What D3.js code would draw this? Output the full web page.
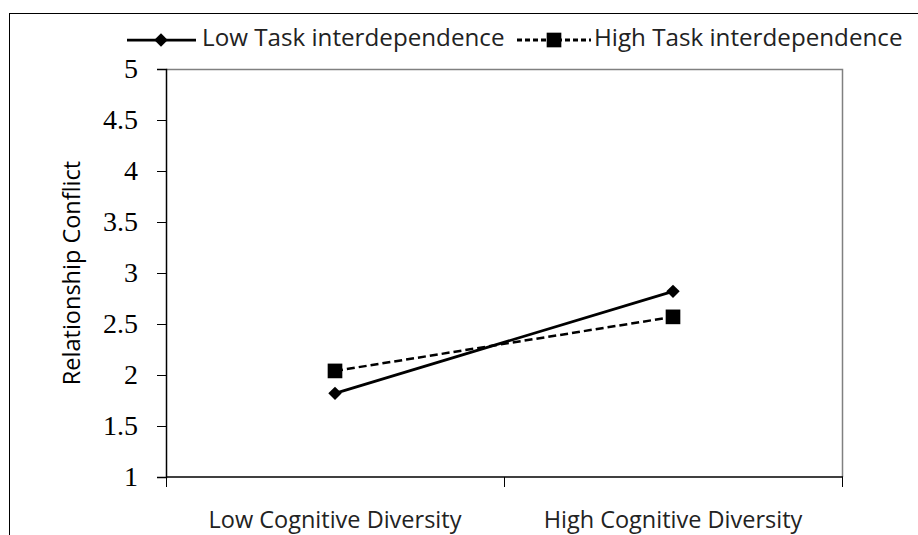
<!DOCTYPE html>
<html>
<head>
<meta charset="utf-8">
<script src="https://cdn.jsdelivr.net/npm/d3@7"></script>
<style>
  body { margin: 0; background: #fff; }
</style>
</head>
<body>
<div id="chart"></div>
<script>
const width = 918, height = 535;

// data
const categories = ["Low Cognitive Diversity", "High Cognitive Diversity"];
const lowTask = [1.82, 2.82];
const highTask = [2.04, 2.57];
const yTicks = [1, 1.5, 2, 2.5, 3, 3.5, 4, 4.5, 5];
const seriesNames = ["Low Task interdependence", "High Task interdependence"];

const margin = { top: 69, right: 76, bottom: 58, left: 166 };

const svg = d3.select("#chart")
    .append("svg")
    .attr("width", width)
    .attr("height", height);

// outer chart frame
svg.append("rect")
    .attr("x", 9.5).attr("y", 13.5)
    .attr("width", 920).attr("height", 540)
    .attr("fill", "none")
    .attr("stroke", "#000")
    .attr("stroke-width", 1);

const x = d3.scaleBand()
    .domain(categories)
    .range([margin.left, width - margin.right])
    .padding(0);

const y = d3.scaleLinear()
    .domain([1, 5])
    .range([height - margin.bottom, margin.top]);

// plot area top and right border (grey)
svg.append("path")
    .attr("d", `M${margin.left},${margin.top + 0.5}H${width - margin.right + 0.5}V${height - margin.bottom}`)
    .attr("fill", "none")
    .attr("stroke", "#808080")
    .attr("stroke-width", 1.5);

// y axis
const yAxis = svg.append("g")
    .attr("transform", `translate(${margin.left},0)`)
    .call(d3.axisLeft(y).tickValues(yTicks).tickSize(9).tickPadding(19).tickFormat(d3.format("")));
yAxis.select(".domain").attr("stroke", "#000").attr("stroke-width", 1.5);
yAxis.selectAll(".tick line").attr("stroke", "#000");
yAxis.selectAll("text")
    .attr("font-family", "'Liberation Serif', 'Times New Roman', serif")
    .attr("font-size", 28)
    .attr("fill", "#000");

// x axis: ticks at category boundaries
const boundaries = [margin.left].concat(categories.map(c => x(c) + x.bandwidth()));
const xAxis = svg.append("g")
    .attr("transform", `translate(0,${height - margin.bottom})`);
xAxis.append("line")
    .attr("x1", margin.left).attr("x2", width - margin.right + 1)
    .attr("stroke", "#000").attr("stroke-width", 1.5);
xAxis.selectAll("line.tk")
    .data(boundaries)
    .join("line")
    .attr("class", "tk")
    .attr("x1", d => d + 0.5).attr("x2", d => d + 0.5)
    .attr("y1", 0).attr("y2", 10)
    .attr("stroke", "#000");
xAxis.selectAll("text")
    .data(categories)
    .join("text")
    .attr("x", d => x(d) + x.bandwidth() / 2)
    .attr("y", 51)
    .attr("text-anchor", "middle")
    .attr("font-family", "'Open Sans', 'Noto Sans', sans-serif")
    .attr("font-size", 23.5)
    .attr("fill", "#222")
    .text(d => d);

// y axis title
svg.append("text")
    .attr("transform", `translate(80,${(margin.top + height - margin.bottom) / 2}) rotate(-90)`)
    .attr("text-anchor", "middle")
    .attr("font-family", "'Open Sans', 'Noto Sans', sans-serif")
    .attr("font-size", 23.5)
    .attr("fill", "#000")
    .text("Relationship Conflict");

const line = d3.line()
    .x((d, i) => x(categories[i]) + x.bandwidth() / 2)
    .y(d => y(d));

// series lines
svg.append("path")
    .attr("d", line(highTask))
    .attr("fill", "none")
    .attr("stroke", "#000")
    .attr("stroke-width", 2.5)
    .attr("stroke-dasharray", "8,4");

svg.append("path")
    .attr("d", line(lowTask))
    .attr("fill", "none")
    .attr("stroke", "#000")
    .attr("stroke-width", 2.75);

const diamond = d3.symbol().type(d3.symbolDiamond2).size(115);
const square = d3.symbol().type(d3.symbolSquare).size(215);

svg.selectAll("path.lowMark")
    .data(lowTask)
    .join("path")
    .attr("class", "lowMark")
    .attr("transform", (d, i) => `translate(${x(categories[i]) + x.bandwidth() / 2},${y(d)})`)
    .attr("d", diamond)
    .attr("fill", "#000");

svg.selectAll("path.highMark")
    .data(highTask)
    .join("path")
    .attr("class", "highMark")
    .attr("transform", (d, i) => `translate(${x(categories[i]) + x.bandwidth() / 2},${y(d)})`)
    .attr("d", square)
    .attr("fill", "#000");

// legend
const legendY = 40;
const lg = svg.append("g");
lg.append("line")
    .attr("x1", 127).attr("x2", 196)
    .attr("y1", legendY).attr("y2", legendY)
    .attr("stroke", "#000").attr("stroke-width", 2.75);
lg.append("path")
    .attr("transform", `translate(161,${legendY})`)
    .attr("d", diamond)
    .attr("fill", "#000");
lg.append("text")
    .attr("x", 202).attr("y", legendY + 6)
    .attr("font-family", "'Open Sans', 'Noto Sans', sans-serif")
    .attr("font-size", 24.2)
    .attr("fill", "#222")
    .text(seriesNames[0]);

lg.append("line")
    .attr("x1", 517).attr("x2", 591)
    .attr("y1", legendY).attr("y2", legendY)
    .attr("stroke", "#000").attr("stroke-width", 3)
    .attr("stroke-dasharray", "5,3");
lg.append("path")
    .attr("transform", `translate(554,${legendY})`)
    .attr("d", square)
    .attr("fill", "#000");
lg.append("text")
    .attr("x", 594).attr("y", legendY + 6)
    .attr("font-family", "'Open Sans', 'Noto Sans', sans-serif")
    .attr("font-size", 24.2)
    .attr("fill", "#222")
    .text(seriesNames[1]);
</script>
</body>
</html>
